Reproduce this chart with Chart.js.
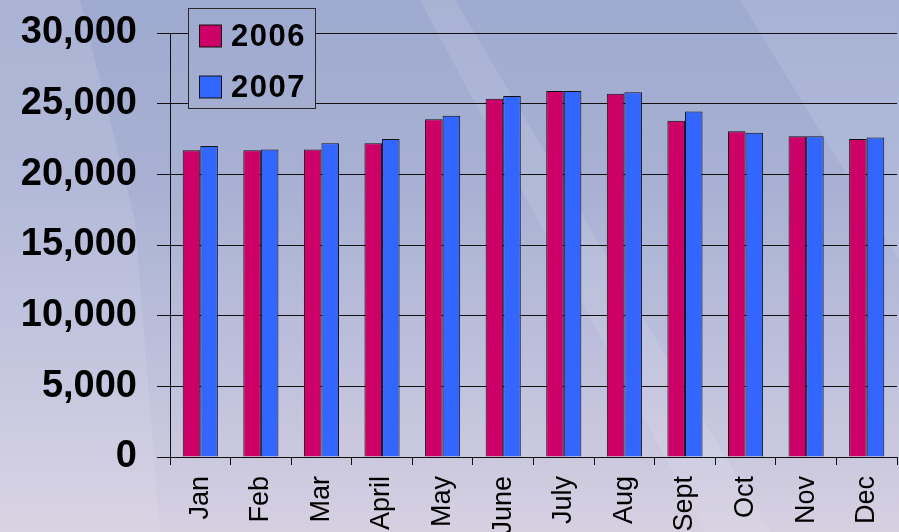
<!DOCTYPE html>
<html>
<head>
<meta charset="utf-8">
<script src="https://cdn.jsdelivr.net/npm/chart.js@4/dist/chart.umd.min.js"></script>
<style>
  html, body { margin: 0; padding: 0; background: #b4bad6; }
  #chart { display: block; }
</style>
</head>
<body>
<canvas id="chart" width="899" height="532"></canvas>
<script>
const months = ["Jan", "Feb", "Mar", "April", "May", "June", "July", "Aug", "Sept", "Oct", "Nov", "Dec"];
const values2006 = [21700, 21700, 21750, 22200, 23900, 25350, 25900, 25700, 23800, 23050, 22700, 22500];
const values2007 = [22000, 21750, 22200, 22500, 24150, 25550, 25900, 25800, 24450, 22950, 22700, 22600];
const yTicks = [0, 5000, 10000, 15000, 20000, 25000, 30000];

const crimson = "#cc0066";
const blue = "#3366ff";
const ink = "#111111";

// slide-style backdrop: soft blue/lavender wash with a few pale diagonal bands
let backdrop = null;
const backdropPlugin = {
  id: "backdrop",
  beforeDraw(chart) {
    const { ctx, width, height } = chart;
    const g = ctx.createLinearGradient(0, 0, 0, height);
    g.addColorStop(0, "#9eaacf");
    g.addColorStop(0.35, "#a8b1d3");
    g.addColorStop(0.7, "#bfc1dc");
    g.addColorStop(1, "#d6d0e1");
    backdrop = g;
    ctx.save();
    ctx.fillStyle = g;
    ctx.fillRect(0, 0, width, height);

    const band = (pts, color) => {
      ctx.beginPath();
      ctx.moveTo(pts[0][0], pts[0][1]);
      pts.slice(1).forEach(p => ctx.lineTo(p[0], p[1]));
      ctx.closePath();
      ctx.fillStyle = color;
      ctx.fill();
    };
    band([[0, 0], [80, 0], [135, 220], [160, 532], [0, 532]], "rgba(235,232,245,0.16)");
    band([[420, 0], [455, 0], [770, 532], [705, 532]], "rgba(240,236,248,0.13)");
    band([[740, 0], [899, 0], [899, 260]], "rgba(230,232,248,0.14)");
    ctx.restore();
  }
};

// boxed legend sitting on top of the grid in the upper-left of the plot
const boxLegend = {
  id: "boxLegend",
  afterDraw(chart) {
    const { ctx } = chart;
    const x = 188.5, y = 8.5, w = 127, h = 100;
    ctx.save();
    ctx.fillStyle = backdrop;
    ctx.fillRect(x, y, w, h);
    ctx.strokeStyle = "#2a2a2a";
    ctx.lineWidth = 1;
    ctx.strokeRect(x, y, w, h);
    ctx.font = "bold 31px 'Liberation Sans', Arial, sans-serif";
    ctx.letterSpacing = "1.5px";
    ctx.textBaseline = "middle";
    chart.data.datasets.forEach((ds, i) => {
      const cy = 36 + i * 51;
      ctx.fillStyle = ds.backgroundColor;
      ctx.fillRect(199.5, cy - 11, 22, 22);
      ctx.strokeStyle = ink;
      ctx.strokeRect(199.5, cy - 11, 22, 22);
      ctx.fillStyle = "#000";
      ctx.fillText(ds.label, 231, cy + 1);
    });
    ctx.restore();
  }
};

new Chart(document.getElementById("chart"), {
  type: "bar",
  data: {
    labels: months,
    datasets: [
      { label: "2006", data: values2006, backgroundColor: crimson, borderColor: ink, borderWidth: 1 },
      { label: "2007", data: values2007, backgroundColor: blue, borderColor: ink, borderWidth: 1 }
    ]
  },
  options: {
    responsive: false,
    animation: false,
    layout: { padding: { top: 33, right: 2, left: 0, bottom: 0 } },
    datasets: {
      bar: { categoryPercentage: 0.58, barPercentage: 1.0 }
    },
    plugins: {
      legend: { display: false },
      tooltip: { enabled: false }
    },
    scales: {
      x: {
        afterFit: (scale) => {
          scale.height = 75;
          scale.paddingLeft = 0;
          scale.paddingRight = 0;
        },
        grid: { offset: true, drawOnChartArea: false, color: ink, tickLength: 8 },
        border: { color: ink },
        ticks: {
          color: "#000",
          autoSkip: false,
          minRotation: 90,
          maxRotation: 90,
          padding: 11,
          font: { family: "'Liberation Sans', Arial, sans-serif", size: 27 }
        }
      },
      y: {
        min: 0,
        max: 30000,
        afterFit: (scale) => {
          scale.width = 170;
          scale.paddingTop = 0;
          scale.paddingBottom = 0;
        },
        afterBuildTicks: (scale) => { scale.ticks = yTicks.map(v => ({ value: v })); },
        grid: { color: ink, tickLength: 13 },
        border: { color: ink },
        ticks: {
          color: "#000",
          padding: 20,
          callback: (v) => v.toLocaleString("en-US"),
          font: { family: "'Liberation Sans', Arial, sans-serif", size: 38, weight: "bold" }
        }
      }
    }
  },
  plugins: [backdropPlugin, boxLegend]
});
</script>
</body>
</html>
